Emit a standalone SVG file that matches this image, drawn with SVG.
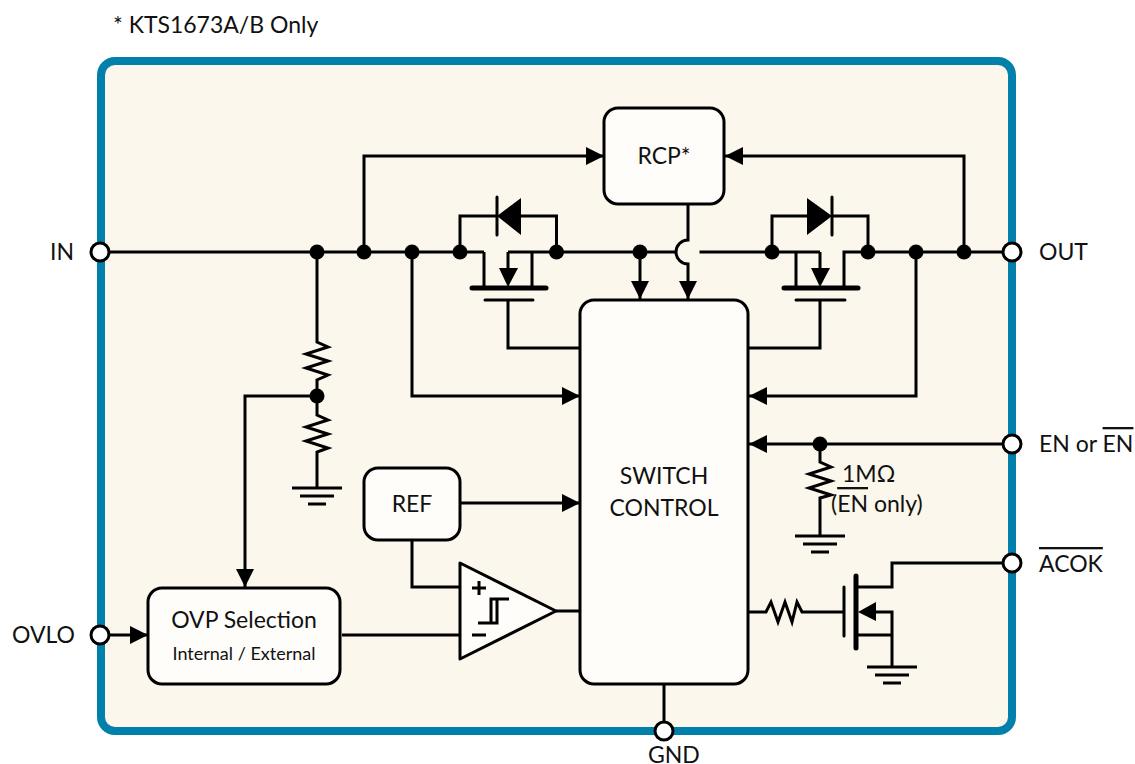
<svg xmlns="http://www.w3.org/2000/svg" width="1135" height="764" viewBox="0 0 1135 764">
<style>
text{font-family:Lato,"Liberation Sans",sans-serif;font-size:23px;fill:#111}
.w{fill:none;stroke:#000;stroke-width:3;stroke-linejoin:miter}
.th{fill:none;stroke:#000;stroke-width:5;stroke-linecap:round}
.b{fill:#fefdfa;stroke:#000;stroke-width:3}
.d{fill:#000}
.p{fill:#fff;stroke:#000;stroke-width:3}
.o{text-decoration:overline}
</style>
<defs>
<marker id="a" markerUnits="userSpaceOnUse" markerWidth="20" markerHeight="20" refX="18" refY="9" orient="auto"><path d="M0 0L18 9L0 18z" fill="#000"/></marker>
<g id="gnd"><path class="w" d="M-25 0H25M-17 8H17M-9 16H9"/></g>
</defs>
<rect x="0" y="0" width="1135" height="764" fill="#fff"/>
<text x="113" y="33">* KTS1673A/B Only</text>
<g id="chip"><rect x="101" y="61" width="911" height="670" rx="14" fill="#fbf7ec" stroke="#0080ab" stroke-width="8"/></g>
<g id="connectors">
<path class="w" d="M100 252H484M484 252V288M532 288V252M508 252H676.500M699.500 252H796V288M844 288V252H1012M820 252V270M508 252V270M796 252H820"/>
<path class="w" d="M460 252V216H497M521 216H556.500V252M772 252V216H807M832 216H868V252"/>
<path class="w" d="M508 300V348H580M820 300V348H749"/>
<path class="w" d="M688 204V240A12 12 0 0 0 688 264V299" marker-end="url(#a)"/>
<path class="w" d="M640 252V299" marker-end="url(#a)"/>
<path class="w" d="M364 252V156H604" marker-end="url(#a)"/>
<path class="w" d="M964 252V156H725" marker-end="url(#a)"/>
<path class="w" d="M412 252V396H580" marker-end="url(#a)"/>
<path class="w" d="M916 252V396H749" marker-end="url(#a)"/>
<path class="w" d="M317 252V342L328 347L306 354L328 361L306 368L328 375L317 380V415L328 420L306 427L328 434L306 441L328 448L317 452V488"/>
<path class="w" d="M317 396H245V587" marker-end="url(#a)"/>
<path class="w" d="M460 503H580" marker-end="url(#a)"/>
<path class="w" d="M412 540V587H460M342 635H460M556 611H580"/>
<path class="w" d="M110 635H148" marker-end="url(#a)"/>
<path class="w" d="M1012 444H749" marker-end="url(#a)"/>
<path class="w" d="M820 444V462L831 467L809 474L831 481L809 488L831 495L820 498V536"/>
<path class="w" d="M749 612H766L771 602L778 622L785 602L792 622L797 602L802 612H844"/>
<path class="w" d="M1012 563H892V587H858M858 635H892V667M876 612H892V635"/>
<path class="w" d="M664 684V731"/>
<circle class="d" cx="317" cy="252" r="7.500"/><circle class="d" cx="364" cy="252" r="7.500"/><circle class="d" cx="412" cy="252" r="7.500"/><circle class="d" cx="460" cy="252" r="7.500"/><circle class="d" cx="556.500" cy="252" r="7.500"/><circle class="d" cx="640" cy="252" r="7.500"/><circle class="d" cx="772" cy="252" r="7.500"/><circle class="d" cx="868" cy="252" r="7.500"/><circle class="d" cx="916" cy="252" r="7.500"/><circle class="d" cx="964" cy="252" r="7.500"/><circle class="d" cx="317" cy="396" r="7.500"/><circle class="d" cx="820" cy="444" r="7.500"/>
</g>
<g id="rcp"><rect class="b" x="604" y="108" width="120" height="96" rx="14"/><text x="664" y="164" text-anchor="middle">RCP*</text></g>
<g id="q1"><path class="d" d="M497 216L521 198V235z"/><path class="w" d="M497 197V235" stroke-linecap="round"/><path class="th" d="M472 288H546"/><path class="w" d="M485 300H533" stroke-linecap="round"/><path class="d" d="M508 287L499 268H518z"/></g>
<g id="q2"><path class="d" d="M832 216L807 198V235z"/><path class="w" d="M832 197V235" stroke-linecap="round"/><path class="th" d="M784 288H858"/><path class="w" d="M796 300H845" stroke-linecap="round"/><path class="d" d="M820 287L811 268H830z"/></g>
<g id="switch"><rect class="b" x="580" y="300" width="168" height="384" rx="14"/><text x="664" y="484" text-anchor="middle">SWITCH</text><text x="664" y="516" text-anchor="middle">CONTROL</text></g>
<g id="ref"><rect class="b" x="364" y="468" width="96" height="72" rx="14"/><text x="412" y="512" text-anchor="middle">REF</text></g>
<g id="ovp"><rect class="b" x="148" y="588" width="192" height="96" rx="14"/><text x="244" y="628" text-anchor="middle">OVP Selection</text><text x="244" y="660" text-anchor="middle" style="font-size:18px">Internal / External</text></g>
<g id="comparator"><path class="b" stroke-linejoin="round" d="M460 563V659L556 611z"/><path class="w" d="M472 588H486M479 581V595M472 635H486M478 623H497V599M491 623V599H509"/></g>
<g id="gnd1"><use href="#gnd" x="317" y="488"/></g>
<g id="gnd2"><use href="#gnd" x="820" y="536"/></g>
<g id="gnd3"><use href="#gnd" x="892" y="667"/></g>
<g id="q3"><path class="th" d="M856 576V648"/><path class="w" d="M844 587V636" stroke-linecap="round"/><path class="d" d="M858 612L876 602V621z"/></g>
<g id="pin-in"><circle class="p" cx="100" cy="252" r="9"/><text x="50" y="260">IN</text></g>
<g id="pin-out"><circle class="p" cx="1012" cy="252" r="9"/><text x="1039" y="260">OUT</text></g>
<g id="pin-ovlo"><circle class="p" cx="100" cy="635" r="9"/><text x="12" y="643">OVLO</text></g>
<g id="pin-en"><circle class="p" cx="1012" cy="444" r="9"/><text x="1039" y="452">EN or <tspan class="o">EN</tspan></text></g>
<g id="pin-acok"><circle class="p" cx="1012" cy="563" r="9"/><text x="1039" y="572" class="o">ACOK</text></g>
<g id="pin-gnd"><circle class="p" cx="664" cy="731" r="9"/><text x="648" y="763">GND</text></g>
<g id="r-label"><text x="842" y="482">1MΩ</text><text x="831" y="512">(<tspan class="o">EN</tspan> only)</text></g>
</svg>
